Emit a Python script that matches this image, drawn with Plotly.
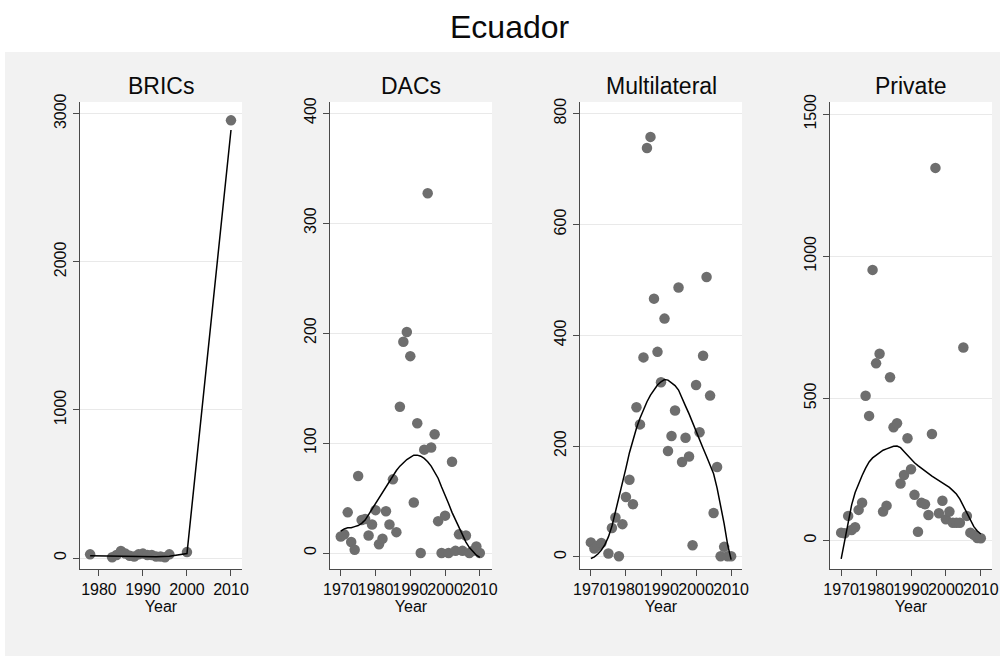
import plotly.graph_objects as go

# ---- BRICs ----
bric_year = [1978, 1983, 1984, 1985, 1986, 1987, 1988, 1989, 1990, 1991, 1992, 1993, 1994, 1995, 1996, 2000, 2010]
bric_val = [25, 5, 20, 47, 30, 15, 10, 25, 30, 20, 20, 10, 10, 5, 25, 40, 2955]
bric_fit_year = [1978, 1983, 1985, 1990, 1993, 1996, 2000, 2010]
bric_fit = [15, 12, 14, 12, 8, 12, 30, 2890]

# ---- DACs ----
dac_year = list(range(1970, 2011))
dac_val = [15, 17, 37, 10, 3, 70, 30, 31, 16, 26, 39, 8, 13, 38, 26, 67, 19, 133, 192, 201,
           179, 46, 118, 0, 94, 327, 96, 108, 29, 0, 34, 0, 83, 2, 17, 2, 16, 0, 2, 6, 0]
dac_fit = [20, 22, 23, 23, 24, 25, 27, 30, 35, 40, 45, 50, 55, 60, 66, 71, 75, 79, 82, 85,
           87, 89, 89, 88, 86, 83, 79, 74, 68, 60, 53, 45, 37, 30, 23, 16, 10, 5, 1, -2, -4]

# ---- Multilateral ----
mul_year = [1970, 1971, 1972, 1973, 1975, 1976, 1977, 1978, 1979, 1980, 1981, 1982, 1983, 1984,
            1985, 1986, 1987, 1988, 1989, 1990, 1991, 1992, 1993, 1994, 1995, 1996, 1997, 1998,
            1999, 2000, 2001, 2002, 2003, 2004, 2005, 2006, 2007, 2008, 2009, 2010]
mul_val = [26, 15, 20, 25, 6, 52, 71, 1, 59, 108, 139, 95, 270, 239, 360, 738, 758, 466, 370, 315,
           430, 191, 218, 264, 486, 171, 215, 181, 21, 310, 225, 363, 505, 291, 79, 162, 1, 18, 1, 1]
mul_fit_year = list(range(1970, 2011))
mul_fit = [-3, 0, 5, 12, 22, 36, 55, 80, 105, 132, 160, 188, 212, 232, 250, 266, 280, 292, 302, 310,
           316, 320, 319, 314, 309, 301, 288, 272, 258, 242, 225, 210, 196, 181, 166, 150, 124, 95, 60, 22, -5]

# ---- Private ----
pri_year = list(range(1970, 2011))
pri_val = [27, 25, 86, 36, 46, 107, 132, 509, 438, 952, 623, 657, 101, 122, 574, 398, 412, 200, 230, 359,
           250, 160, 30, 132, 127, 89, 374, 1311, 95, 139, 74, 101, 62, 62, 62, 679, 86, 27, 19, 8, 7]
pri_fit = [-65, -5, 65, 125, 168, 200, 228, 254, 276, 290, 300, 310, 317, 322, 326, 331, 332, 326, 313, 299,
           286, 273, 263, 253, 243, 234, 226, 218, 210, 202, 195, 186, 175, 163, 145, 120, 95, 70, 48, 33, 22]

panel_titles = ["BRICs", "DACs", "Multilateral", "Private"]
x_ranges = [[1975.7, 2012.5], [1966.9, 2013.5], [1966.9, 2013.1], [1966.8, 2013.2]]
y_ranges = [[-74, 3079], [-14.5, 410], [-22, 821], [-101, 1543]]
x_ticks = [[1980, 1990, 2000, 2010], [1970, 1980, 1990, 2000, 2010],
           [1970, 1980, 1990, 2000, 2010], [1970, 1980, 1990, 2000, 2010]]
y_ticks = [[0, 1000, 2000, 3000], [0, 100, 200, 300, 400],
           [0, 200, 400, 600, 800], [0, 500, 1000, 1500]]

points = [(bric_year, bric_val), (dac_year, dac_val), (mul_year, mul_val), (pri_year, pri_val)]
fits = [(bric_fit_year, bric_fit), (dac_year, dac_fit), (mul_fit_year, mul_fit), (pri_year, pri_fit)]

W, H = 1000, 656
FONT = "Liberation Sans, Arial, Helvetica, sans-serif"
AXIS_COLOR = "#4a4a4a"
TEXT_COLOR = "#0a0a0a"

fig = go.Figure()
layout = dict(
    width=W, height=H, margin=dict(l=0, r=0, t=0, b=0, pad=0, autoexpand=False),
    paper_bgcolor="#f2f2f2", plot_bgcolor="white", showlegend=False,
    font=dict(family=FONT, color=TEXT_COLOR),
)

top_px, bottom_px = 102, 569
ydom = [(H - bottom_px) / H, (H - top_px) / H]
annotations = []
for i in range(4):
    left_px = 80 + 250 * i
    right_px = 242 + 250 * i
    xa = "x" if i == 0 else f"x{i + 1}"
    ya = "y" if i == 0 else f"y{i + 1}"
    px_, py_ = points[i]
    fx, fy = fits[i]
    fig.add_trace(go.Scatter(x=px_, y=py_, mode="markers", xaxis=xa, yaxis=ya, cliponaxis=False,
                             marker=dict(size=10.5, color="#6e6e6e", line=dict(width=0))))
    fig.add_trace(go.Scatter(x=fx, y=fy, mode="lines", xaxis=xa, yaxis=ya,
                             line=dict(color="black", width=1.5)))
    layout["xaxis" if i == 0 else f"xaxis{i + 1}"] = dict(
        domain=[left_px / W, right_px / W], range=x_ranges[i], anchor=ya, automargin=False,
        tickvals=x_ticks[i], tickangle=0, ticks="outside", ticklen=6, tickcolor=AXIS_COLOR, tickwidth=1.2,
        showline=True, linecolor=AXIS_COLOR, linewidth=1.3, showgrid=False, zeroline=False,
        tickfont=dict(size=16, family=FONT, color=TEXT_COLOR),
        title=dict(text="Year", font=dict(size=16, family=FONT, color=TEXT_COLOR), standoff=0),
    )
    layout["yaxis" if i == 0 else f"yaxis{i + 1}"] = dict(
        domain=ydom, range=y_ranges[i], anchor=xa, automargin=False,
        tickvals=y_ticks[i], ticks="outside", ticklen=6, tickcolor=AXIS_COLOR, tickwidth=1.2,
        showline=True, linecolor=AXIS_COLOR, linewidth=1.3,
        showgrid=True, gridcolor="#e9e9e9", gridwidth=1, zeroline=False,
        tickangle=-90, tickfont=dict(size=16, family=FONT, color=TEXT_COLOR),
    )
    annotations.append(dict(
        text=panel_titles[i], x=(left_px + right_px) / 2 / W, y=(H - 86) / H,
        xref="paper", yref="paper", showarrow=False, xanchor="center", yanchor="middle",
        font=dict(size=23, family=FONT, color=TEXT_COLOR),
    ))

annotations.append(dict(
    text="Ecuador", x=510 / W, y=(H - 27) / H, xref="paper", yref="paper",
    showarrow=False, xanchor="center", yanchor="middle",
    font=dict(size=32, family=FONT, color=TEXT_COLOR),
))
layout["annotations"] = annotations
layout["shapes"] = [
    dict(type="rect", xref="paper", yref="paper", x0=0, x1=1, y0=(H - 52) / H, y1=1,
         fillcolor="white", line=dict(width=0), layer="below"),
    dict(type="rect", xref="paper", yref="paper", x0=0, x1=5 / W, y0=0, y1=1,
         fillcolor="white", line=dict(width=0), layer="below"),
]
fig.update_layout(**layout)
fig.write_html("out.html")
